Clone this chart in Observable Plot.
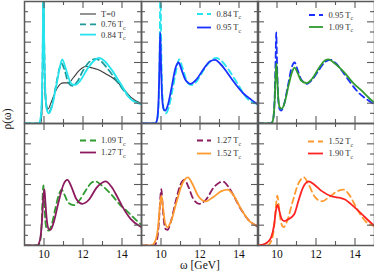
<!DOCTYPE html>
<html><head><meta charset="utf-8">
<script src="https://cdn.jsdelivr.net/npm/d3@7"></script>
<script src="https://cdn.jsdelivr.net/npm/@observablehq/plot@0.6"></script>
<style>
body{margin:0;background:#fff;}
#fig{position:relative;width:374px;height:273px;overflow:hidden;font-family:"Liberation Serif","DejaVu Serif",serif;color:#111;}
.panel{position:absolute;}
.lab{position:absolute;font-size:11.5px;white-space:nowrap;}
</style></head><body><div id="fig"></div>
<script>
// ---- data (omega in GeV, rho in arbitrary units) ----
const omegaT0  = [9.0, 9.84, 9.9, 9.94, 9.97, 10.0, 10.05, 10.12, 10.22, 10.35, 10.6, 10.85, 11.0, 11.26, 11.5, 11.8, 12.14, 12.5, 12.9, 13.2, 13.58, 14.0, 14.45, 15.0];
const rhoT0    = [0, 0, 1.5, 8, 14, 8, 3.2, 1.7, 1.45, 2.0, 3.2, 3.9, 4.0, 4.0, 4.5, 5.2, 5.6, 5.45, 5.2, 4.85, 4.4, 3.6, 2.6, 1.95];
const omegaT076 = [9.0, 9.74, 9.84, 9.91, 9.95, 9.97, 10.01, 10.07, 10.16, 10.25, 10.4, 10.6, 10.78, 10.9, 11.05, 11.25, 11.45, 11.7, 12.0, 12.35, 12.65, 12.9, 13.3, 13.8, 14.45, 15.0];
const rhoT076   = [0, 0, 0.5, 3, 10, 14, 8, 3, 1.4, 1.1, 1.7, 3.6, 5.3, 5.9, 5.3, 4.0, 3.7, 4.1, 5.2, 6.1, 6.35, 6.15, 5.3, 4.0, 2.45, 1.9];
const omegaT084 = [9.0, 9.7, 9.8, 9.88, 9.93, 9.97, 10.01, 10.07, 10.15, 10.25, 10.4, 10.6, 10.8, 10.93, 11.1, 11.3, 11.45, 11.62, 11.85, 12.2, 12.55, 12.83, 13.1, 13.5, 13.9, 14.45, 15.0];
const rhoT084   = [0, 0, 0.3, 2, 7, 14, 8, 3, 1.3, 1.0, 1.6, 3.4, 5.4, 6.3, 5.5, 4.3, 3.85, 3.8, 4.2, 5.3, 6.15, 6.45, 6.15, 5.2, 4.0, 2.4, 1.9];
const omegaT095 = [9.0, 9.7, 9.8, 9.88, 9.93, 9.96, 10.0, 10.06, 10.14, 10.21, 10.35, 10.55, 10.75, 10.9, 11.05, 11.25, 11.53, 11.8, 12.2, 12.5, 12.78, 13.0, 13.4, 13.75, 14.2, 14.62, 15.0];
const rhoT095   = [0, 0, 0.4, 2.5, 6.5, 8.95, 6, 2.5, 1.4, 1.27, 1.8, 3.6, 5.5, 6.0, 5.3, 4.3, 3.9, 4.3, 5.4, 6.1, 6.25, 5.95, 5.0, 4.05, 3.0, 2.35, 1.85];
const omegaT109 = [9.0, 9.7, 9.8, 9.88, 9.93, 9.97, 10.01, 10.07, 10.15, 10.25, 10.4, 10.6, 10.78, 10.9, 11.05, 11.25, 11.53, 11.8, 12.2, 12.45, 12.65, 12.9, 13.46, 13.9, 14.3, 14.9, 15.0];
const rhoT109   = [0, 0, 0.4, 2.2, 4.8, 5.9, 4.6, 2.4, 1.55, 1.46, 2.1, 3.8, 5.1, 5.5, 5.0, 4.2, 3.97, 4.4, 5.6, 6.2, 6.3, 6.0, 5.0, 4.0, 3.3, 2.2, 2.05];
const omegaT127 = [9.0, 9.65, 9.8, 9.9, 9.97, 10.02, 10.07, 10.15, 10.25, 10.34, 10.5, 10.75, 11.0, 11.2, 11.4, 11.65, 11.97, 12.3, 12.7, 13.0, 13.16, 13.45, 13.77, 14.0, 14.45, 15.0];
const rhoT127   = [0, 0, 0.6, 2.5, 4.8, 5.55, 4.3, 2.4, 1.6, 1.55, 2.3, 4.3, 6.0, 6.45, 5.8, 4.6, 4.1, 4.5, 5.7, 6.2, 6.3, 5.8, 4.75, 3.9, 2.6, 1.8];
const omegaT152 = [9.0, 9.5, 9.7, 9.85, 9.95, 10.02, 10.1, 10.2, 10.34, 10.5, 10.8, 11.1, 11.38, 11.6, 11.9, 12.3, 12.7, 13.1, 13.42, 13.7, 14.1, 14.53, 15.0];
const rhoT152   = [0, 0, 0.4, 1.8, 4.0, 4.9, 3.8, 2.3, 1.8, 2.3, 4.3, 6.1, 6.7, 6.1, 4.9, 4.35, 4.8, 5.35, 5.5, 5.0, 3.6, 2.4, 1.9];
const omegaT190 = [9.0, 9.2, 9.5, 9.7, 9.85, 9.95, 10.03, 10.12, 10.22, 10.37, 10.6, 10.89, 11.1, 11.31, 11.62, 11.9, 12.26, 12.86, 13.2, 13.46, 13.97, 14.5, 14.9, 15.0];
const rhoT190   = [0, 0.05, 0.3, 0.8, 2.0, 3.5, 4.0, 3.4, 2.7, 2.4, 2.6, 3.1, 4.4, 5.6, 6.3, 6.0, 5.4, 4.8, 4.7, 4.55, 3.77, 2.8, 2.1, 1.95];

const seriesNames = ["T0","T076","T084","T095","T109","T127","T152","T190"];
const seriesLabels = ["T=0","0.76 T","0.84 T","0.95 T","1.09 T","1.27 T","1.52 T","1.90 T"];
const seriesSubs   = ["","c","c","c","c","c","c","c"];
const xMajor = [10, 12, 14];
const xMinor = [11, 13];
const yMajor = [2, 4, 6, 8, 10];
const yMinor = [1, 3, 5, 7, 9, 11];
const xTickLabels = [10, 12, 14];
// panels: [series, dashed?]
const panelSeries = [
  [["T0",false],["T076",true],["T084",false]],
  [["T084",true],["T095",false]],
  [["T095",true],["T109",false]],
  [["T109",true],["T127",false]],
  [["T127",true],["T152",false]],
  [["T152",true],["T190",false]]
];

// ---- styles / layout ----
const colors = {T0:"#3a3a3a",T076:"#1f9a9a",T084:"#25e4ee",T095:"#1a30ff",T109:"#2f9a2f",T127:"#8c1a5e",T152:"#ff9a30",T190:"#ff2424"};
const widths = {T0:1.1};
const frameColor = "#5a5a5a";
const L0 = 24, PW = 116.5, TOP0 = 1, PH = 122;
const legendPos = [ // [lineX1, lineX2, textX, firstY, step] panel-relative px
  [56, 72, 77, 13, 10.3],
  [56, 70, 75.5, 13, 13.5],
  [52, 66, 71.5, 14, 12],
  [56, 72, 77, 17.5, 12],
  [56, 70, 75.5, 17.5, 13],
  [51, 66, 71.5, 18.5, 12]
];

const data = Object.fromEntries(seriesNames.map(n => {
  const w = eval("omega" + n), r = eval("rho" + n);
  return [n, w.map((x, i) => ({omega: x, rho: r[i]}))];
}));

const fig = document.getElementById("fig");

panelSeries.forEach((ps, i) => {
  const row = Math.floor(i / 3), col = i % 3;
  const bottom = row === 1;
  const mb = bottom ? 22 : 0;
  const H = PH + mb;
  const W = Math.round(PW + 0.5);
  const marks = [];
  ps.forEach(([n, dashed]) => {
    marks.push(Plot.line(data[n], {
      x: "omega", y: "rho", stroke: colors[n], strokeWidth: widths[n] || 1.8,
      strokeDasharray: dashed ? "6,4" : null, curve: "monotone-x", clip: true
    }));
  });
  const tk = {stroke: frameColor, strokeWidth: 1.1};
  marks.push(Plot.tickX(xMajor, {x: d => d, insetTop: PH - 7, ...tk}));
  marks.push(Plot.tickX(xMajor, {x: d => d, insetBottom: PH - 7, ...tk}));
  marks.push(Plot.tickX(xMinor, {x: d => d, insetTop: PH - 4, ...tk}));
  marks.push(Plot.tickX(xMinor, {x: d => d, insetBottom: PH - 4, ...tk}));
  marks.push(Plot.tickY(yMajor, {y: d => d, insetRight: W - 7, ...tk}));
  marks.push(Plot.tickY(yMajor, {y: d => d, insetLeft: W - 7, ...tk}));
  marks.push(Plot.tickY(yMinor, {y: d => d, insetRight: W - 4, ...tk}));
  marks.push(Plot.tickY(yMinor, {y: d => d, insetLeft: W - 4, ...tk}));
  marks.push(Plot.frame({stroke: frameColor, strokeWidth: 1.5}));
  if (bottom) marks.push(Plot.axisX({ticks: xTickLabels, tickSize: 0, tickPadding: 4, label: null, fontSize: 11.5, fill: "#111", tickFormat: d => String(d)}));
  const svg = Plot.plot({
    width: W, height: H,
    marginTop: 0, marginLeft: 0, marginRight: 0, marginBottom: mb,
    x: {domain: [9, 15], ...(bottom ? {} : {axis: null})},
    y: {domain: [0, 12], axis: null},
    style: {fontFamily: "'Liberation Serif', 'DejaVu Serif', serif", overflow: "visible", background: "transparent"},
    marks
  });
  // legend
  const [lx1, lx2, tx, y0, dy] = legendPos[i];
  const g = d3.select(svg).append("g").attr("text-anchor", "start");
  ps.forEach(([n, dashed], k) => {
    const y = y0 + k * dy;
    const idx = seriesNames.indexOf(n);
    g.append("line").attr("x1", lx1).attr("x2", lx2).attr("y1", y).attr("y2", y)
      .attr("stroke", colors[n]).attr("stroke-width", widths[n] || 1.8)
      .attr("stroke-dasharray", dashed ? "6,4" : null);
    const t = g.append("text").attr("x", tx).attr("y", y).attr("dy", "0.35em")
      .attr("text-anchor", "start")
      .attr("font-size", 8.5).attr("fill", "#333")
      .attr("font-family", "'Liberation Serif', serif");
    t.append("tspan").text(seriesLabels[idx]);
    if (seriesSubs[idx]) t.append("tspan").attr("font-size", 6).attr("dy", 2.5).text(seriesSubs[idx]);
  });
  const div = document.createElement("div");
  div.className = "panel";
  div.style.left = (L0 + col * PW) + "px";
  div.style.top = (TOP0 + row * PH) + "px";
  div.style.width = W + "px";
  div.appendChild(svg);
  fig.appendChild(div);
});

const xl = document.createElement("div");
xl.className = "lab"; xl.textContent = "ω [GeV]";
xl.style.left = "200px"; xl.style.top = "265px"; xl.style.transform = "translate(-50%,-50%)";
fig.appendChild(xl);
const yl = document.createElement("div");
yl.className = "lab"; yl.textContent = "ρ(ω)";
yl.style.left = "7px"; yl.style.top = "119px"; yl.style.transform = "translate(-50%,-50%) rotate(-90deg)";
fig.appendChild(yl);
</script></body></html>
